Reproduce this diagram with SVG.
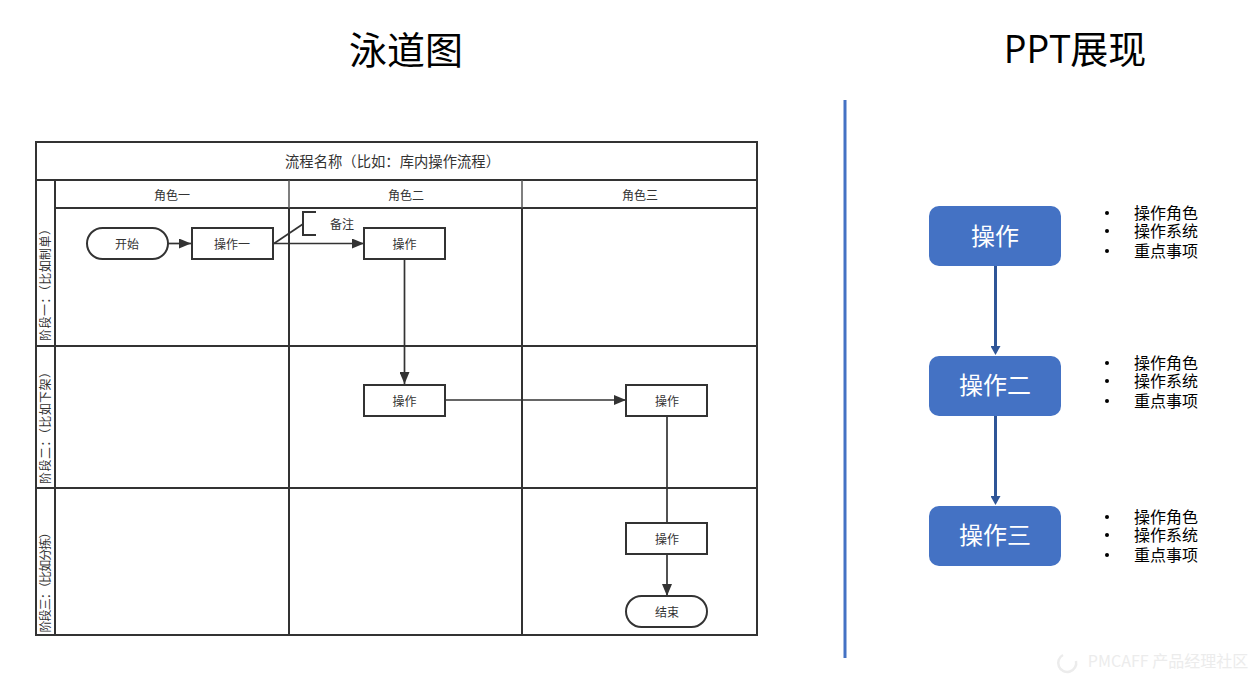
<svg xmlns="http://www.w3.org/2000/svg" width="1258" height="682" viewBox="0 0 1258 682">
<style>
text{font-family:"Noto Sans CJK SC","Noto Sans",sans-serif;text-anchor:middle;font-feature-settings:"chws" 0,"palt" 0;font-kerning:none}
.t{font-size:12px;fill:#333}
.h{font-size:38px;fill:#000}
.g{fill:none;stroke:#333;stroke-width:2}
.g2{fill:none;stroke:#555;stroke-width:1.5}
.n{fill:#fff;stroke:#333;stroke-width:2}
.c{fill:none;stroke:#333;stroke-width:1.7}
.b{fill:#4472c4}
.bt{font-size:24px;fill:#fff}
.l{font-size:16px;fill:#000}
.d{fill:#000}
.bc{stroke:#2f5597;stroke-width:3;fill:none}
</style>
<defs>
<marker id="a" markerUnits="userSpaceOnUse" markerWidth="13" markerHeight="10" refX="12" refY="5" orient="auto"><path d="M0 0L12 5L0 10Z" fill="#333"/></marker>
<marker id="ba" markerUnits="userSpaceOnUse" markerWidth="10" markerHeight="10" refX="1" refY="5" orient="auto"><path d="M0 0L9 5L0 10Z" fill="#2f5597"/></marker>
</defs>
<rect width="1258" height="682" fill="#fff"/>
<text class="h" x="406" y="64">泳道图</text>
<text class="h" x="1075" y="63" style="font-family:'Open Sans','Noto Sans CJK SC',sans-serif">PPT展现</text>
<rect x="843.500" y="100" width="3" height="558" fill="#4472c4"/>
<g id="swimlane">
<rect class="g" x="36" y="142" width="721" height="493"/>
<path class="g" d="M36 180H757M55 180V635M55 208H757M36 346H757M36 488H757M289 208V635M522 208V635"/>
<path class="g2" d="M289 180V208M522 180V208"/>
<text class="t" style="font-size:14.300px" x="392.500" y="167" textLength="215" lengthAdjust="spacing">流程名称（比如：库内操作流程）</text>
<text class="t" x="172" y="200">角色一</text>
<text class="t" x="406" y="200">角色二</text>
<text class="t" x="640" y="200">角色三</text>
<text class="t" transform="translate(50 282) rotate(-90)" textLength="118" lengthAdjust="spacing">阶段一：（比如制单）</text>
<text class="t" transform="translate(50 425) rotate(-90)" textLength="118" lengthAdjust="spacing">阶段二：（比如下架）</text>
<text class="t" transform="translate(50 579.500) rotate(-90)" textLength="106" lengthAdjust="spacing">阶段三：（比如分拣）</text>
</g>
<g id="connectors">
<path class="c" d="M168 243.500H191" marker-end="url(#a)"/>
<path class="c" d="M273 243.500H364" marker-end="url(#a)"/>
<path class="c" d="M404.500 259.500V384" marker-end="url(#a)"/>
<path class="c" d="M445 400H626" marker-end="url(#a)"/>
<path class="c" d="M667 416V523"/>
<path class="c" d="M667 554V596" marker-end="url(#a)"/>
<path class="c" d="M274 243.500L303 224"/>
<path class="bc" d="M995.500 266V347" marker-end="url(#ba)"/>
<path class="bc" d="M995.500 416V497" marker-end="url(#ba)"/>
</g>
<g id="start"><rect class="n" x="87" y="228" width="81" height="31" rx="15.500"/><text class="t" x="127" y="248.500">开始</text></g>
<g id="op1"><rect class="n" x="192" y="228" width="81" height="31"/><text class="t" x="232" y="248.500">操作一</text></g>
<g id="note"><path class="g" d="M316 212H303V235H316"/><text class="t" x="342" y="229">备注</text></g>
<g id="op2"><rect class="n" x="364" y="228" width="81" height="31"/><text class="t" x="404.500" y="249">操作</text></g>
<g id="op3"><rect class="n" x="364" y="385" width="81" height="31"/><text class="t" x="404.500" y="405.500">操作</text></g>
<g id="op4"><rect class="n" x="626" y="385" width="81" height="31"/><text class="t" x="667" y="405.500">操作</text></g>
<g id="op5"><rect class="n" x="626" y="523" width="81" height="31"/><text class="t" x="667" y="543.500">操作</text></g>
<g id="end"><rect class="n" x="626" y="596" width="81" height="31" rx="15.500"/><text class="t" x="667" y="617">结束</text></g>
<g id="ppt1"><rect class="b" x="929" y="206" width="132" height="60" rx="10"/><text class="bt" x="995" y="245">操作</text></g>
<g id="ppt2"><rect class="b" x="929" y="356" width="132" height="60" rx="10"/><text class="bt" x="995" y="393.500">操作二</text></g>
<g id="ppt3"><rect class="b" x="929" y="506" width="132" height="60" rx="10"/><text class="bt" x="995" y="544">操作三</text></g>
<g id="list1"><circle class="d" cx="1107" cy="213" r="2"/><circle class="d" cx="1107" cy="231" r="2"/><circle class="d" cx="1107" cy="251" r="2"/>
<text class="l" x="1166" y="219">操作角色</text><text class="l" x="1166" y="237">操作系统</text><text class="l" x="1166" y="257">重点事项</text></g>
<g id="list2"><circle class="d" cx="1107" cy="363" r="2"/><circle class="d" cx="1107" cy="381" r="2"/><circle class="d" cx="1107" cy="401" r="2"/>
<text class="l" x="1166" y="369">操作角色</text><text class="l" x="1166" y="387">操作系统</text><text class="l" x="1166" y="407">重点事项</text></g>
<g id="list3"><circle class="d" cx="1107" cy="517" r="2"/><circle class="d" cx="1107" cy="535" r="2"/><circle class="d" cx="1107" cy="555" r="2"/>
<text class="l" x="1166" y="523">操作角色</text><text class="l" x="1166" y="541">操作系统</text><text class="l" x="1166" y="561">重点事项</text></g>
<g id="watermark"><path d="M1063 655A9 9 0 1 0 1076 661" fill="none" stroke="#ececec" stroke-width="2.500"/>
<text x="1168" y="667" style="font-size:16px;fill:#ececec">PMCAFF 产品经理社区</text></g>
</svg>
